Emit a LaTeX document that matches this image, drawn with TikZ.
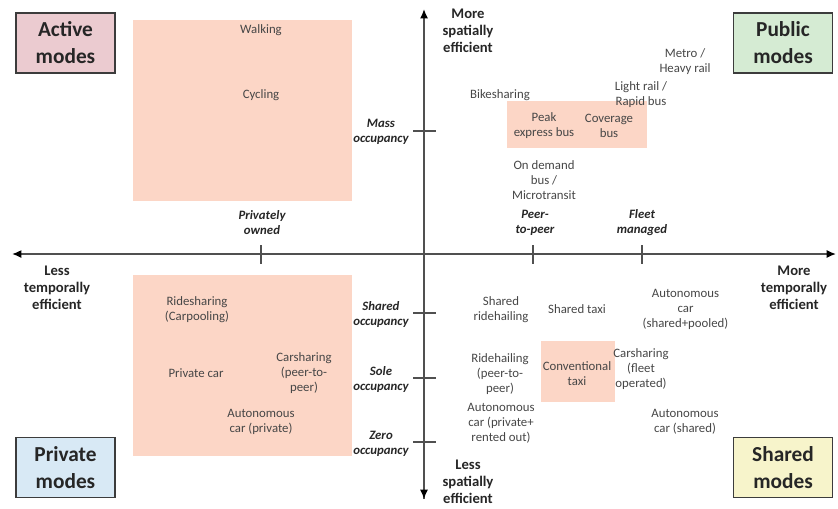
\documentclass[tikz,border=0pt]{standalone}
\usepackage{fontspec}
\setmainfont{Carlito}
\usetikzlibrary{arrows.meta}
\definecolor{boxline}{RGB}{60,60,60}
\definecolor{linegray}{RGB}{80,80,80}
\definecolor{txtgray}{RGB}{70,70,70}
\definecolor{activefill}{RGB}{235,203,208}
\definecolor{publicfill}{RGB}{213,235,211}
\definecolor{privatefill}{RGB}{216,233,245}
\definecolor{sharedfill}{RGB}{247,244,203}
\definecolor{salmon}{RGB}{252,214,198}
\tikzset{
  cnr/.style={rectangle, draw=boxline, line width=1.3pt,
    minimum width=74.25pt, minimum height=45pt, align=center,
    inner sep=0pt, text=black!85,
    font=\bfseries\fontsize{16}{20.25}\selectfont},
  cnrR/.style={cnr, fill=activefill},
  cnrG/.style={cnr, fill=publicfill},
  cnrB/.style={cnr, fill=privatefill},
  cnrY/.style={cnr, fill=sharedfill},
  mode/.style={align=center, inner sep=0pt, text=txtgray,
    font=\fontsize{9.6}{11.25}\selectfont},
  axl/.style={align=center, inner sep=0pt, text=black!85,
    font=\bfseries\fontsize{11}{12.75}\selectfont},
  occ/.style={align=center, inner sep=0pt, text=black!85,
    font=\bfseries\itshape\fontsize{9.6}{11.25}\selectfont},
  zone/.style={fill=salmon},
  axis/.style={-{Latex[length=7pt,width=6pt,color=black]},
    line width=1.2pt, draw=linegray},
  tck/.style={line width=1.2pt, draw=linegray},
}

\begin{document}
\begin{tikzpicture}[x=0.75pt, y=-0.75pt]
  \useasboundingbox (0,0) rectangle (838,508);

  % ---- shaded zones ----
  \fill[zone] (133,20)  rectangle (352,201);
  \fill[zone] (133,275) rectangle (352,456);
  \fill[zone] (507,101) rectangle (647,148);
  \fill[zone] (541,341) rectangle (615,402);

  % ---- axes ----
  \coordinate (xl) at (12,254);
  \coordinate (xr) at (836,254);
  \coordinate (yt) at (424,9);
  \coordinate (yb) at (424,499);
  \draw[axis] (yb) -- (yt);
  \draw[axis] (yt |- xl) -- (xl);
  \draw[axis] (yt |- xr) -- (xr);
  \draw[axis] (yt |- xl) -- (yb);

  % ---- ticks ----
  \foreach \tx in {261,533,642}
    \draw[tck] (\tx,245) -- (\tx,264);
  \foreach \ty in {131,313,378,442}
    \draw[tck] (413,\ty) -- (436,\ty);

  % ---- corner boxes ----
  \node[cnrR] (active)  at (65.5,43)   {Active\\modes};
  \node[cnrG] (public)  at (783,43)    {Public\\modes};
  \node[cnrB] (private) at (65.5,467.5) {Private\\modes};
  \node[cnrY] (shared)  at (783,467.5) {Shared\\modes};

  % ---- axis labels ----
  \node[axl] (morespat) at (468,30.5) {More\\spatially\\efficient};
  \node[axl] (lessspat) at (468,482)  {Less\\spatially\\efficient};
  \node[axl] (lesstemp) at (57,288)   {Less\\temporally\\efficient};
  \node[axl] (moretemp) at (794,288)  {More\\temporally\\efficient};

  % ---- tick labels ----
  \node[occ] (privown) at (262,223)   {Privately\\owned};
  \node[occ] (p2p)     at (535,223)   {Peer-\\to-peer};
  \node[occ] (fleet)   at (642,223)   {Fleet\\managed};
  \node[occ] (massocc) at (381,131.5) {Mass\\occupancy};
  \node[occ] (shrocc)  at (381,314.5) {Shared\\occupancy};
  \node[occ] (soleocc) at (381,379.5) {Sole\\occupancy};
  \node[occ] (zeroocc) at (381,444)   {Zero\\occupancy};

  % ---- upper half ----
  \node[mode] (walk)   at (261,30)  {Walking};
  \node[mode] (cycle)  at (261,95)  {Cycling};
  \node[mode] (bikesh) at (500,95)  {Bikesharing};
  \node[mode] (metro)  at (685,62)  {Metro /\\Heavy rail};
  \node[mode] (lrail)  at (641,94.5) {Light rail /\\Rapid bus};
  \node[mode] (peak)   at (544,126) {Peak\\express bus};
  \node[mode] (cover)  at (609,126) {Coverage\\bus};
  \node[mode] (ondem)  at (544,180) {On demand\\bus /\\Microtransit};

  % ---- lower half ----
  \node[mode] (rideshr) at (197,309.5) {Ridesharing\\(Carpooling)};
  \node[mode] (privcar) at (196,373)   {Private car};
  \node[mode] (carp2p)  at (304,373)   {Carsharing\\(peer-to-\\peer)};
  \node[mode] (avpriv)  at (261,422)   {Autonomous\\car (private)};
  \node[mode] (shride)  at (501,309.5) {Shared\\ridehailing};
  \node[mode] (shtaxi)  at (577,309)   {Shared taxi};
  \node[mode] (avpool)  at (685.5,309) {Autonomous\\car\\(shared+pooled)};
  \node[mode] (ride)    at (500,374)   {Ridehailing\\(peer-to-\\peer)};
  \node[mode] (convtx)  at (577,374)   {Conventional\\taxi};
  \node[mode] (carflt)  at (641,369)   {Carsharing\\(fleet\\operated)};
  \node[mode] (avrent)  at (501,423)   {Autonomous\\car (private+\\rented out)};
  \node[mode] (avshr)   at (685,422)   {Autonomous\\car (shared)};
\end{tikzpicture}
\end{document}
